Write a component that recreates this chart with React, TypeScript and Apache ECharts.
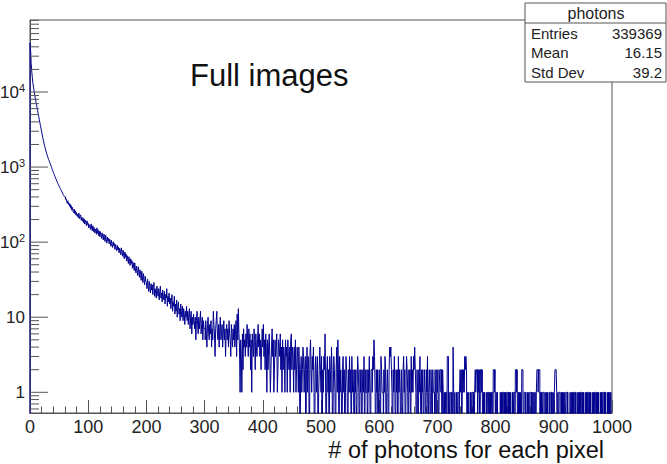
import React, { useEffect, useRef } from "react";
import * as echarts from "echarts";

// ---- data: counts per bin (bin width 1, bins 0..999) ----
const countsHead = [
  45000, 36000, 24000, 19000, 15500, 13100, 11600, 10300, 9250, 8350,
  7560, 6870, 6240, 5680, 5150, 4690, 4270, 3900, 3560, 3240,
  2950, 2690, 2460, 2270, 2090, 1930, 1800, 1680, 1570, 1480,
  1400, 1330, 1260, 1210, 1150, 1090, 1040, 990, 940, 900,
  855, 820, 780, 745, 712, 684, 652, 630, 601, 580,
  560, 538, 520, 498, 483, 466, 450, 430, 418, 402,
  400, 372, 381, 350, 329, 356, 318, 333, 301, 322,
  283, 305, 266, 290, 258, 247, 275, 240, 262, 229,
  248, 221, 236, 212, 244, 205, 219, 231, 196, 214,
  190, 211, 182, 203, 174, 196, 185, 165, 192, 170,
  178, 155, 171, 160, 148, 175, 151, 142, 166, 139,
  157, 133, 150, 141, 127, 155, 131, 146, 122, 140,
];

const countsMid = [
  118, 138, 126, 112, 133, 120, 107, 128, 115, 102,
  124, 108, 97, 117, 104, 112, 95, 109, 99, 88,
  106, 92, 85, 101, 90, 96, 80, 93, 84, 77,
  91, 79, 86, 72, 83, 76, 68, 84, 73, 65,
  78, 67, 60, 74, 63, 70, 56, 66, 59, 52,
  64, 55, 49, 60, 52, 57, 45, 54, 48, 42,
  53, 44, 39, 48, 42, 36, 47, 40, 34, 43,
  37, 31, 41, 35, 29, 38, 32, 27, 35, 30,
  29, 24, 32, 26, 22, 30, 25, 21, 28, 23,
  27, 20, 25, 29, 19, 24, 21, 18, 26, 22,
  19, 24, 17, 22, 26, 18, 21, 16, 23, 19,
  17, 22, 15, 20, 18, 24, 14, 19, 16, 21,
  15, 18, 13, 17, 20, 12, 16, 14, 19, 11,
  15, 12, 17, 10, 14, 16, 11, 13, 9, 15,
  12, 10, 14, 9, 13, 11, 8, 12, 10, 14,
  9, 12, 8, 11, 13, 7, 10, 12, 6, 10,
  8, 11, 9, 7, 10, 5, 9, 12, 8, 6,
  10, 7, 9, 12, 6, 8, 10, 5, 9, 7,
];

const countsTail1 = [
  7, 5, 9, 6, 4, 8, 10, 6, 5, 8,
  6, 9, 4, 7, 5, 12, 8, 6, 3, 7,
  9, 12, 6, 5, 8, 4, 7, 10, 5, 6,
  8, 4, 6, 9, 5, 7, 3, 6, 8, 5,
  7, 4, 9, 6, 5, 3, 8, 6, 4, 7,
  5, 8, 4, 6, 9, 3, 11, 5, 13, 6,
  4, 1, 5, 3, 1, 6, 2, 7, 4, 5,
  3, 6, 4, 8, 5, 3, 7, 4, 6, 2,
  5, 1, 6, 4, 3, 7, 5, 2, 6, 4,
  3, 5, 8, 4, 6, 3, 5, 2, 4, 7,
  4, 8, 3, 5, 2, 6, 4, 1, 5, 2,
  4, 6, 3, 1, 2, 4, 7, 3, 5, 1,
  2, 5, 3, 4, 6, 1, 2, 5, 4, 3,
  6, 2, 4, 1, 5, 2, 4, 3, 1, 5,
  3, 4, 1, 5, 3, 2, 4, 1, 5, 6,
  2, 4, 3, 1, 4, 2, 5, 1, 2, 4,
  3, 1, 4, 2,
];

const countsTail2 = [
  0, 2, 3, 1, 2, 4, 3, 1, 2, 3,
  0, 2, 4, 1, 3, 2, 0, 3, 5, 2,
  1, 3, 2, 4, 1, 0, 2, 3, 1, 2,
  3, 0, 1, 2, 4, 2, 1, 3, 0, 2,
  1, 3, 2, 6, 1, 0, 2, 3, 1, 2,
  0, 3, 2, 1, 4, 2, 0, 1, 3, 2,
  1, 0, 2, 4, 1, 5, 2, 0, 3, 1,
  2, 1, 0, 2, 3, 1, 2, 0, 1, 3,
  2, 1, 0, 2, 1, 3,
  1, 2, 0, 3, 1, 2, 1, 0, 2, 1,
  2, 0, 1, 3, 2, 1, 0, 2, 1, 2,
  0, 1, 2, 1, 3, 0, 2, 1, 1, 2,
  0, 2, 1, 3, 1, 0, 2, 2, 1, 3,
  2, 5, 3, 1, 0, 2, 1, 2, 0, 1,
  2, 1, 0, 3, 2, 1, 1, 0, 2, 1,
  3, 2, 0, 1, 2, 1, 0, 2, 4, 3,
  4, 2, 1, 0, 2, 1, 3, 1, 0, 2,
  1, 2, 0, 3, 1, 2, 1, 0, 2, 1,
  0, 2, 3, 1, 2, 0, 1, 3, 2, 1,
  0, 2, 1, 2, 0, 3, 1, 2, 1, 3,
  2, 4, 2, 1, 0, 2, 1, 0, 2, 1,
  3, 1, 0, 2, 1, 2, 0, 1, 2, 1,
  0, 2, 1, 3, 0, 1, 2, 1, 0, 2,
  1, 0, 2, 1, 1, 0, 2, 1, 0, 2,
  1, 2, 0, 1, 2,
];

const countsTail3 = [
  2, 1, 2, 0, 2, 1, 0, 1, 0, 1,
  1, 0, 3, 3, 0, 1, 0, 1, 1, 0,
  1, 0, 4, 1, 0, 1, 0, 0, 1, 0,
  1, 1, 0, 1, 2, 1, 2, 0, 2, 1,
  2, 1, 3, 2, 3, 2, 0, 1, 0, 1,
  0, 0, 1, 0, 1, 1, 0, 1, 0, 1,
  2, 1, 2, 2, 0, 2, 1, 2, 0, 2,
  2, 1, 2, 0, 1, 0, 1, 0, 0, 1,
  0, 1, 1, 0, 1, 0, 1, 0, 1, 1,
  0, 2, 2, 1, 2, 0, 1, 0, 1, 0,
  0, 0, 0, 1, 0, 1, 0, 1, 1, 0,
  1, 0, 1, 0, 1, 1, 0, 1, 0, 1,
  0, 1, 0, 0, 1, 0, 1, 1, 0, 2,
  2, 1, 2, 0, 1, 0, 1, 0, 1, 0,
  2, 2, 1, 0, 1, 1, 0, 1, 0, 0,
  1, 0, 1, 0, 1, 1, 0, 1, 0, 1,
  0, 1, 0, 1, 0, 1, 2, 2, 1, 2,
  2, 0, 1, 0, 1, 0, 1, 1, 0, 0,
  1, 0, 1, 0, 1, 0, 0, 1, 0, 1,
  1, 0, 1, 0, 1, 0, 1, 2, 2, 2,
  1, 0, 1, 0, 1, 1, 0, 0, 1, 0,
  1, 0, 1, 0, 1, 0, 1, 1, 0, 1,
  0, 0, 0, 1, 0, 1, 0, 1, 0, 1,
  1, 0, 1, 0, 0, 1, 0, 1, 0, 1,
  0, 1, 1, 0, 1, 0, 1, 0, 0, 1,
  0, 1, 0, 1, 1, 0, 1, 0, 1, 0,
  0, 1, 0, 1, 0, 1, 1, 0, 1, 0,
  1, 0, 1, 0, 0, 1, 0, 1, 0, 1,
  1, 0, 1, 0, 1, 0, 0, 1, 0, 1,
  0, 1, 0, 1, 0,
];

const xRange = [0, 1000];
const yRange = [0.53, 91000];
const yMajorTicks = [1, 10, 100, 1000, 10000];
const yMinorTicks = [
  0.6, 0.7, 0.8, 0.9,
  2, 3, 4, 5, 6, 7, 8, 9,
  20, 30, 40, 50, 60, 70, 80, 90,
  200, 300, 400, 500, 600, 700, 800, 900,
  2000, 3000, 4000, 5000, 6000, 7000, 8000, 9000,
  20000, 30000, 40000, 50000, 60000, 70000, 80000, 90000,
];

const chartLabel = "Full images";
const xAxisTitle = "# of photons for each pixel";
const statsTitle = "photons";
const statsNames = ["Entries", "Mean", "Std Dev"];
const statsValues = ["339369", "16.15", "39.2"];

const FONT = "'Liberation Sans', Arial, Helvetica, sans-serif";
const AXIS_COLOR = "#555";
const TEXT_COLOR = "#222";
const LINE_COLOR = "#00008f";

export default function App() {
  const ref = useRef<HTMLDivElement>(null);

  useEffect(() => {
    if (!ref.current) return;
    const chart = echarts.init(ref.current, undefined, { renderer: "svg" });

    const counts = [...countsHead, ...countsMid, ...countsTail1, ...countsTail2, ...countsTail3];
    const binWidth = (xRange[1] - xRange[0]) / counts.length;
    const FLOOR = 0.1; // empty bins fall below the log axis
    const pts: number[][] = [[xRange[0], FLOOR]];
    counts.forEach((c, i) => pts.push([xRange[0] + i * binWidth, c > 0 ? c : FLOOR]));
    pts.push([xRange[1], FLOOR]);

    const tickData = [
      ...yMajorTicks.map((v) => [0, v, 1]),
      ...yMinorTicks.map((v) => [0, v, 0]),
    ];

    const statsY0 = 33;
    const statsDy = 19.5;

    chart.setOption({
      animation: false,
      backgroundColor: "#fff",
      grid: {
        left: 30,
        top: 20,
        width: 582,
        height: 393,
        show: true,
        borderColor: AXIS_COLOR,
        borderWidth: 1,
        outerBoundsMode: "none",
      },
      xAxis: {
        type: "value",
        min: xRange[0],
        max: xRange[1],
        interval: 100,
        axisLine: { show: true, onZero: false, lineStyle: { color: AXIS_COLOR, width: 1 } },
        axisTick: { show: true, inside: true, length: 13, lineStyle: { color: AXIS_COLOR } },
        minorTick: { show: true, splitNumber: 5, length: 6.5, lineStyle: { color: AXIS_COLOR } },
        axisLabel: {
          fontSize: 18,
          color: TEXT_COLOR,
          margin: 5,
          fontFamily: FONT,
          formatter: (v: number) => String(v),
        },
        splitLine: { show: false },
        minorSplitLine: { show: false },
      },
      yAxis: {
        type: "log",
        logBase: 10,
        min: yRange[0],
        max: yRange[1],
        axisLine: { show: true, lineStyle: { color: AXIS_COLOR, width: 1 } },
        axisTick: { show: false },
        splitLine: { show: false },
        axisLabel: {
          showMinLabel: false,
          showMaxLabel: false,
          margin: 5,
          color: TEXT_COLOR,
          fontFamily: FONT,
          formatter: (v: number) => {
            const l = Math.log10(v);
            const e = Math.round(l);
            if (Math.abs(l - e) > 1e-6) return "";
            if (e === 0) return "{b|1}";
            if (e === 1) return "{b|10}";
            return `{b|10}{s|${e}}`;
          },
          rich: {
            b: { fontSize: 17, fontFamily: FONT, color: TEXT_COLOR, lineHeight: 20 },
            s: { fontSize: 11, fontFamily: FONT, color: TEXT_COLOR, verticalAlign: "top", lineHeight: 20 },
          },
        },
      },
      series: [
        {
          type: "line",
          data: pts,
          step: "end",
          showSymbol: false,
          symbol: "none",
          clip: true,
          silent: true,
          lineStyle: { color: LINE_COLOR, width: 1 },
          z: 2,
        },
        {
          type: "custom",
          data: tickData,
          silent: true,
          clip: false,
          z: 3,
          renderItem: (params: any, api: any) => {
            const p = api.coord([api.value(0), api.value(1)]);
            const len = api.value(2) === 1 ? 18 : 9;
            return {
              type: "line",
              shape: { x1: p[0], y1: p[1], x2: p[0] + len, y2: p[1] },
              style: { stroke: AXIS_COLOR, lineWidth: 1 },
            };
          },
        },
      ],
      graphic: [
        {
          type: "text",
          x: 190,
          y: 75,
          z: 50,
          style: {
            text: chartLabel,
            font: `31px ${FONT}`,
            fill: "#111",
            textAlign: "left",
            textVerticalAlign: "middle",
          },
        },
        {
          type: "text",
          x: 604,
          y: 450,
          z: 50,
          style: {
            text: xAxisTitle,
            font: `23.5px ${FONT}`,
            fill: "#111",
            textAlign: "right",
            textVerticalAlign: "middle",
          },
        },
        {
          type: "group",
          z: 100,
          children: [
            {
              type: "rect",
              z: 100,
              shape: { x: 525, y: 3, width: 141, height: 79 },
              style: { fill: "#fff", stroke: AXIS_COLOR, lineWidth: 1 },
            },
            {
              type: "line",
              z: 101,
              shape: { x1: 525, y1: 23, x2: 666, y2: 23 },
              style: { stroke: AXIS_COLOR, lineWidth: 1 },
            },
            {
              type: "text",
              z: 101,
              x: 596,
              y: 13,
              style: {
                text: statsTitle,
                font: `16px ${FONT}`,
                fill: TEXT_COLOR,
                textAlign: "center",
                textVerticalAlign: "middle",
              },
            },
            ...statsNames.map((n, i) => ({
              type: "text",
              z: 101,
              x: 531,
              y: statsY0 + i * statsDy,
              style: {
                text: n,
                font: `15px ${FONT}`,
                fill: TEXT_COLOR,
                textAlign: "left",
                textVerticalAlign: "middle",
              },
            })),
            ...statsValues.map((v, i) => ({
              type: "text",
              z: 101,
              x: 662,
              y: statsY0 + i * statsDy,
              style: {
                text: v,
                font: `15px ${FONT}`,
                fill: TEXT_COLOR,
                textAlign: "right",
                textVerticalAlign: "middle",
              },
            })),
          ],
        },
      ],
    });

    return () => chart.dispose();
  }, []);

  return (
    <div
      ref={ref}
      style={{ position: "absolute", left: 0, top: 0, width: 667, height: 464, background: "#fff" }}
    />
  );
}
